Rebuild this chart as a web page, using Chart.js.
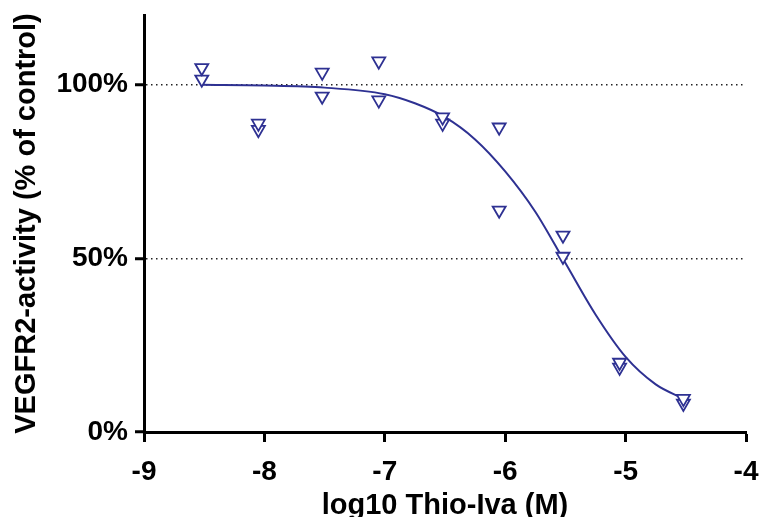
<!DOCTYPE html>
<html>
<head>
<meta charset="utf-8">
<script src="https://cdn.jsdelivr.net/npm/chart.js@4.4.1/dist/chart.umd.min.js"></script>
<style>
  html, body { margin: 0; padding: 0; background: #fff; }
  #wrap { width: 761px; height: 517px; }
</style>
</head>
<body>
<div id="wrap"><canvas id="ic50" width="761" height="517"></canvas></div>
<script>
// log10 concentration of each dose (two replicates per dose)
const logConc = [-8.52, -8.05, -7.52, -7.05, -6.52, -6.05, -5.52, -5.05, -4.52];
const rep1 = [104.8, 88.8, 103.5, 106.7, 90.6, 87.7, 56.6, 20.0, 9.6];
const rep2 = [101.5, 87.0, 96.6, 95.5, 88.8, 63.8, 50.5, 18.6, 8.2];

// fitted dose-response curve
const fitX = [-8.52, -8.0, -7.5, -7.0, -6.75, -6.5, -6.25, -6.0, -5.75, -5.5, -5.25, -5.0, -4.75, -4.52];
const fitY = [99.9, 99.7, 99.1, 97.2, 94.6, 90.6, 84.2, 75.0, 63.4, 48.6, 33.8, 21.6, 13.7, 9.6];

const xTicks = [-9, -8, -7, -6, -5, -4];
const yTicks = [0, 50, 100];

const BLUE = '#2e3192';
const FONT = "'Liberation Sans', Arial, Helvetica, sans-serif";

function pairs(xs, ys) {
  return xs.map((x, i) => ({ x: x, y: ys[i] }));
}

const marker = {
  pointStyle: 'triangle',
  rotation: 180,
  radius: 7.5,
  borderColor: BLUE,
  backgroundColor: '#fff',
  borderWidth: 1.8
};

new Chart(document.getElementById('ic50'), {
  type: 'scatter',
  data: {
    datasets: [
      Object.assign({ data: pairs(logConc, rep1) }, marker),
      Object.assign({ data: pairs(logConc, rep2) }, marker),
      {
        data: pairs(fitX, fitY),
        showLine: true,
        pointRadius: 0,
        borderColor: BLUE,
        borderWidth: 2,
        cubicInterpolationMode: 'monotone'
      }
    ]
  },
  options: {
    responsive: false,
    animation: false,
    devicePixelRatio: 1,
    layout: { padding: { top: 15, right: 15, bottom: 0, left: 0 } },
    plugins: { legend: { display: false }, tooltip: { enabled: false } },
    scales: {
      x: {
        type: 'linear',
        min: -9,
        max: -4,
        afterBuildTicks: s => { s.ticks = xTicks.map(v => ({ value: v })); },
        afterFit: s => { s.height = 85; s.paddingLeft = 0; s.paddingRight = 0; },
        grid: { drawOnChartArea: false, tickLength: 10, tickWidth: 3, tickColor: '#000' },
        border: { color: '#000', width: 3 },
        ticks: {
          color: '#000',
          font: { family: FONT, size: 28, weight: 'bold' },
          padding: 13,
          maxRotation: 0,
          callback: v => String(v)
        },
        title: {
          display: true,
          text: 'log10 Thio-Iva (M)',
          color: '#000',
          font: { family: FONT, size: 29, weight: 'bold' },
          padding: { top: 0, bottom: -6 }
        }
      },
      y: {
        min: 0,
        max: 120,
        afterBuildTicks: s => { s.ticks = yTicks.map(v => ({ value: v })); },
        afterFit: s => { s.width = 144; s.paddingTop = 0; s.paddingBottom = 0; },
        grid: {
          color: ctx => (ctx.tick && ctx.tick.value === 0) ? 'rgba(0,0,0,0)' : '#222',
          lineWidth: 1.5,
          tickLength: 9,
          tickWidth: 3,
          tickColor: '#000',
          tickBorderDash: []
        },
        border: { color: '#000', width: 3, dash: [1.5, 3.5] },
        ticks: {
          color: '#000',
          font: { family: FONT, size: 28, weight: 'bold' },
          padding: 7,
          callback: v => v + '%'
        },
        title: {
          display: true,
          text: 'VEGFR2-activity (% of control)',
          color: '#000',
          font: { family: FONT, size: 29, weight: 'bold' },
          padding: { top: 10, bottom: 0 }
        }
      }
    }
  }
});
</script>
</body>
</html>
